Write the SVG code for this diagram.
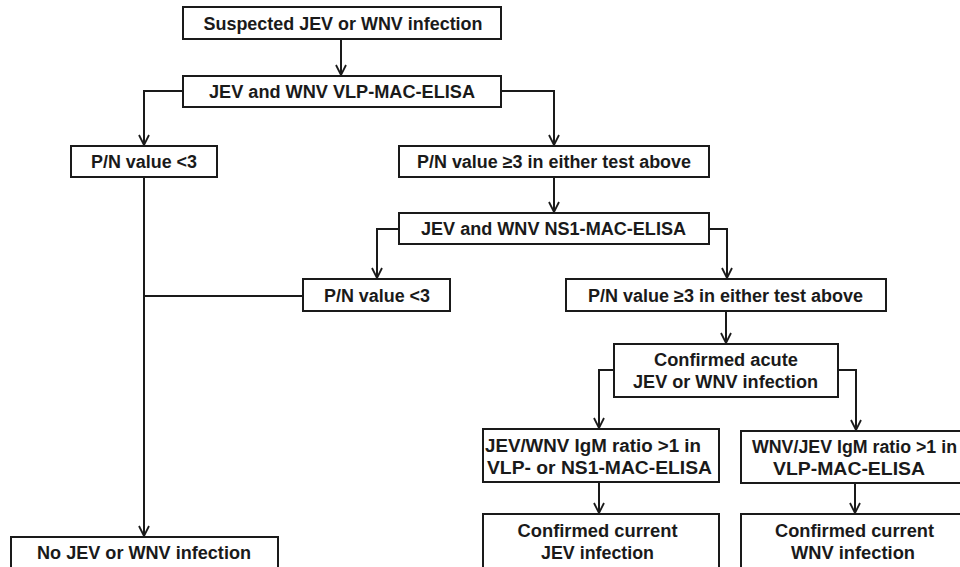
<svg xmlns="http://www.w3.org/2000/svg" width="960" height="567" viewBox="0 0 960 567">
<style>
.box{fill:#fff;stroke:#1a1a1a;stroke-width:2}
.t{font-family:"Liberation Sans",Arial,sans-serif;font-weight:bold;font-size:18px;fill:#1a1a1a;text-anchor:middle}
.c{fill:none;stroke:#1a1a1a;stroke-width:2}
</style>
<defs>
<marker id="arr" viewBox="0 0 12 12" refX="11" refY="6" markerWidth="12" markerHeight="12" markerUnits="userSpaceOnUse" orient="auto">
<path d="M1,1 L11,6 L1,11" fill="none" stroke="#1a1a1a" stroke-width="1.8"/>
</marker>
</defs>
<rect width="960" height="567" fill="#fff"/>
<g id="connectors">
<path class="c" d="M341,39 V75" marker-end="url(#arr)"/>
<path class="c" d="M183,91 H144 V145" marker-end="url(#arr)"/>
<path class="c" d="M501,91 H554 V145" marker-end="url(#arr)"/>
<path class="c" d="M144,177 V536" marker-end="url(#arr)"/>
<path class="c" d="M144,296 H303"/>
<path class="c" d="M554,177 V212" marker-end="url(#arr)"/>
<path class="c" d="M399,229 H377 V278" marker-end="url(#arr)"/>
<path class="c" d="M709,229 H727 V278" marker-end="url(#arr)"/>
<path class="c" d="M726,311 V343" marker-end="url(#arr)"/>
<path class="c" d="M614,370 H599 V428" marker-end="url(#arr)"/>
<path class="c" d="M838,370 H856 V430" marker-end="url(#arr)"/>
<path class="c" d="M599,482 V513" marker-end="url(#arr)"/>
<path class="c" d="M855,483 V513" marker-end="url(#arr)"/>
</g>
<g id="n1"><rect class="box" x="183" y="7" width="318" height="32"/><text class="t" x="343" y="30" textLength="279" lengthAdjust="spacingAndGlyphs">Suspected JEV or WNV infection</text></g>
<g id="n2"><rect class="box" x="183" y="76" width="318" height="31"/><text class="t" x="342" y="98" textLength="266" lengthAdjust="spacingAndGlyphs">JEV and WNV VLP-MAC-ELISA</text></g>
<g id="n3"><rect class="box" x="71" y="146" width="146" height="31"/><text class="t" x="144" y="168" textLength="106" lengthAdjust="spacingAndGlyphs">P/N value &lt;3</text></g>
<g id="n4"><rect class="box" x="399" y="146" width="310" height="31"/><text class="t" x="554" y="168" textLength="274" lengthAdjust="spacingAndGlyphs">P/N value ≥3 in either test above</text></g>
<g id="n5"><rect class="box" x="399" y="213" width="310" height="31"/><text class="t" x="553.5" y="235" textLength="265" lengthAdjust="spacingAndGlyphs">JEV and WNV NS1-MAC-ELISA</text></g>
<g id="n6"><rect class="box" x="303" y="279" width="147" height="32"/><text class="t" x="377" y="302" textLength="106" lengthAdjust="spacingAndGlyphs">P/N value &lt;3</text></g>
<g id="n7"><rect class="box" x="566" y="279" width="320" height="32"/><text class="t" x="725.5" y="302" textLength="275" lengthAdjust="spacingAndGlyphs">P/N value ≥3 in either test above</text></g>
<g id="n8"><rect class="box" x="614" y="344" width="224" height="53"/><text class="t" x="726" y="366" textLength="144" lengthAdjust="spacingAndGlyphs">Confirmed acute</text><text class="t" x="725.5" y="388" textLength="185" lengthAdjust="spacingAndGlyphs">JEV or WNV infection</text></g>
<g id="n9"><rect class="box" x="483" y="429" width="236" height="53"/><text class="t" x="593" y="452" textLength="216" lengthAdjust="spacingAndGlyphs">JEV/WNV IgM ratio &gt;1 in</text><text class="t" x="599.5" y="474" textLength="225" lengthAdjust="spacingAndGlyphs">VLP- or NS1-MAC-ELISA</text></g>
<g id="n10"><rect class="box" x="741" y="431" width="230" height="52"/><text class="t" x="854.5" y="453" textLength="205" lengthAdjust="spacingAndGlyphs">WNV/JEV IgM ratio &gt;1 in</text><text class="t" x="849" y="475" textLength="152" lengthAdjust="spacingAndGlyphs">VLP-MAC-ELISA</text></g>
<g id="n11"><rect class="box" x="483" y="514" width="236" height="60"/><text class="t" x="597.5" y="537" textLength="160" lengthAdjust="spacingAndGlyphs">Confirmed current</text><text class="t" x="597.5" y="559" textLength="113" lengthAdjust="spacingAndGlyphs">JEV infection</text></g>
<g id="n12"><rect class="box" x="741" y="514" width="230" height="60"/><text class="t" x="854.5" y="537" textLength="159" lengthAdjust="spacingAndGlyphs">Confirmed current</text><text class="t" x="853" y="559" textLength="124" lengthAdjust="spacingAndGlyphs">WNV infection</text></g>
<g id="n13"><rect class="box" x="11" y="537" width="267" height="40"/><text class="t" x="144" y="559" textLength="214" lengthAdjust="spacingAndGlyphs">No JEV or WNV infection</text></g>
</svg>
